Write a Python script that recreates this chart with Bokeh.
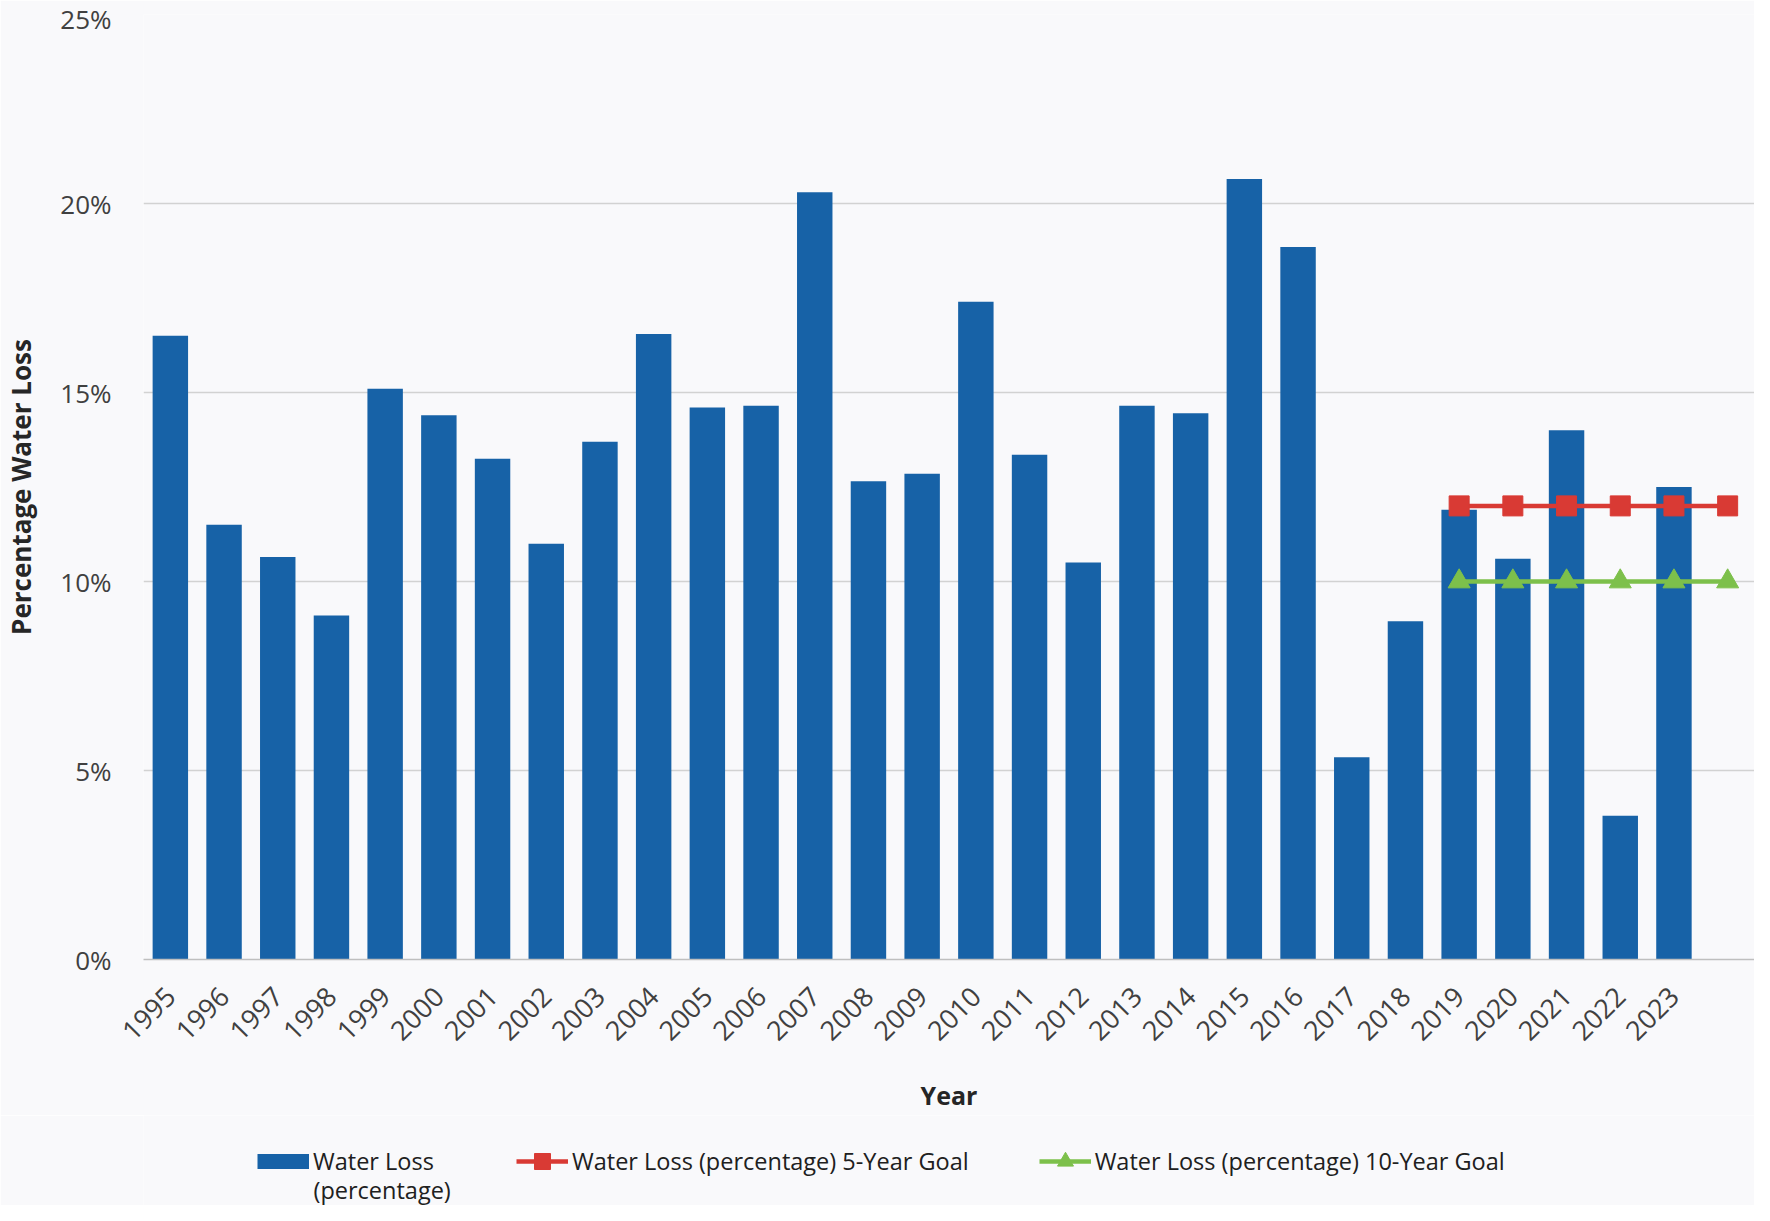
from bokeh.plotting import figure
from bokeh.layouts import column
from bokeh.models import (Range1d, FactorRange, FixedTicker, PrintfTickFormatter, Legend, LegendItem,
                          ColumnDataSource, CustomJSTickFormatter, Label)
from bokeh.embed import file_html
from bokeh.resources import INLINE
import math

# ---------------- data ----------------
years = ["1995", "1996", "1997", "1998", "1999", "2000", "2001", "2002", "2003", "2004",
         "2005", "2006", "2007", "2008", "2009", "2010", "2011", "2012", "2013", "2014",
         "2015", "2016", "2017", "2018", "2019", "2020", "2021", "2022", "2023"]
extra_category = ["2024"]
water_loss = [16.5, 11.5, 10.65, 9.1, 15.1, 14.4, 13.25, 11.0, 13.7, 16.55,
              14.6, 14.65, 20.3, 12.65, 12.85, 17.4, 13.35, 10.5, 14.65, 14.45,
              20.65, 18.85, 5.35, 8.95, 11.9, 10.6, 14.0, 3.8, 12.5]
goal_years = ["2019", "2020", "2021", "2022", "2023", "2024"]
goal_5yr = [12, 12, 12, 12, 12, 12]
goal_10yr = [10, 10, 10, 10, 10, 10]
y_ticks = [0, 5, 10, 15, 20, 25]
legend_bar_lines = ["Water Loss", "(percentage)"]
legend_goal_labels = ["Water Loss (percentage) 5-Year Goal",
                      "Water Loss (percentage) 10-Year Goal"]

FONT = "Open Sans"
BG = "#F9F9FB"
BLUE = "#1762A7"
RED = "#D93A34"
GREEN = "#7DC04B"
LEG_SIZE = "23.5px"

categories = years + extra_category

p = figure(width=1754, height=1115, x_range=FactorRange(*categories, range_padding=0),
           y_range=Range1d(0, 25), output_backend="svg", toolbar_location=None,
           background_fill_color=BG, border_fill_color=BG, outline_line_color=None,
           min_border_left=126, min_border_right=0, min_border_top=14, min_border_bottom=154)
p.x_range.factor_padding = 0

bar_src = ColumnDataSource(dict(year=years, loss=water_loss))
p.vbar(x="year", top="loss", width=0.66, source=bar_src, fill_color=BLUE, line_color=None)

g_src = ColumnDataSource(dict(year=goal_years, g5=goal_5yr, g10=goal_10yr))
p.line(x="year", y="g5", source=g_src, line_color=RED, line_width=4.5)
p.scatter(x="year", y="g5", source=g_src, marker="square", size=20, fill_color=RED, line_color=RED)
p.line(x="year", y="g10", source=g_src, line_color=GREEN, line_width=4.5)
p.scatter(x="year", y="g10", source=g_src, marker="triangle", size=22, fill_color=GREEN, line_color=GREEN)

# y axis
p.yaxis.ticker = FixedTicker(ticks=y_ticks)
p.yaxis.formatter = PrintfTickFormatter(format="%d%%")
p.yaxis.axis_line_color = None
p.yaxis.major_tick_line_color = None
p.yaxis.minor_tick_line_color = None
p.yaxis.major_label_standoff = 26
p.yaxis.major_label_text_font = FONT
p.yaxis.major_label_text_font_size = "26px"
p.yaxis.major_label_text_color = "#404040"
p.yaxis.axis_label = "Percentage Water Loss"
p.yaxis.axis_label_text_font = FONT
p.yaxis.axis_label_text_font_size = "26px"
p.yaxis.axis_label_text_font_style = "bold"
p.yaxis.axis_label_text_color = "#262626"
p.yaxis.axis_label_standoff = 18

# x axis
p.xaxis.axis_line_color = "#BFBFBF"
p.xaxis.axis_line_width = 1.5
p.xaxis.major_tick_line_color = None
p.xaxis.minor_tick_line_color = None
p.xaxis.major_label_orientation = math.pi / 4
p.xaxis.major_label_standoff = 26
p.xaxis.major_label_text_font = FONT
p.xaxis.major_label_text_font_size = "27px"
p.xaxis.major_label_text_color = "#404040"
p.xaxis.formatter = CustomJSTickFormatter(code="return tick == '2024' ? '' : tick;")
p.xaxis.axis_label = "Year"
p.xaxis.axis_label_text_font = FONT
p.xaxis.axis_label_text_font_size = "25px"
p.xaxis.axis_label_text_font_style = "bold"
p.xaxis.axis_label_text_color = "#262626"
p.xaxis.axis_label_standoff = 26

p.xgrid.grid_line_color = None
p.ygrid.grid_line_color = "#D2D2D2"
p.ygrid.grid_line_width = 1.5

# ---------------- legend strip ----------------
lg = figure(width=1754, height=90, x_range=Range1d(0, 1), y_range=Range1d(0, 1),
            output_backend="svg", toolbar_location=None,
            background_fill_color=BG, border_fill_color=BG, outline_line_color=None,
            min_border=0, x_axis_location=None, y_axis_location=None)
lg.xgrid.grid_line_color = None
lg.ygrid.grid_line_color = None
# legend proxies, placed outside the visible ranges
proxy = ColumnDataSource(dict(x=[-5, -4], y=[-5, -5]))
r_bar = lg.line(x="x", y="y", source=proxy, line_color=BLUE, line_width=15)
r_l5 = lg.line(x="x", y="y", source=proxy, line_color=RED, line_width=4.5)
r_m5 = lg.scatter(x="x", y="y", source=proxy, marker="square", size=16, fill_color=RED, line_color=RED)
r_l10 = lg.line(x="x", y="y", source=proxy, line_color=GREEN, line_width=4.5)
r_m10 = lg.scatter(x="x", y="y", source=proxy, marker="triangle", size=16, fill_color=GREEN, line_color=GREEN)

common = dict(orientation="horizontal", background_fill_alpha=0, border_line_color=None,
              label_text_font=FONT, label_text_font_size=LEG_SIZE, label_text_color="#202020",
              glyph_width=52, glyph_height=40, label_standoff=4, padding=0, margin=0)

legend_a = Legend(items=[LegendItem(label=legend_bar_lines[0], renderers=[r_bar])],
                  location=(114, 24), **common)
legend_b = Legend(items=[LegendItem(label=legend_goal_labels[0], renderers=[r_l5, r_m5]),
                         LegendItem(label=legend_goal_labels[1], renderers=[r_l10, r_m10])],
                  location=(373, 24), spacing=70, **common)
lg.add_layout(legend_a, "center")
lg.add_layout(legend_b, "center")
lg.add_layout(Label(x=170, y=16, x_units="screen", y_units="screen", text=legend_bar_lines[1],
                    text_font=FONT, text_font_size=LEG_SIZE, text_color="#202020",
                    text_baseline="middle", text_align="left"))

layout = column(p, lg, spacing=0)
open("out.html", "w").write(file_html(layout, INLINE))
